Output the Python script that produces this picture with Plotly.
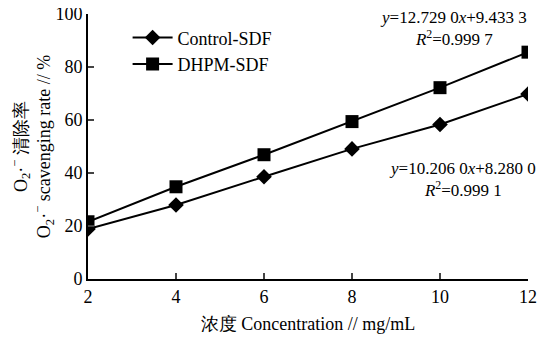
import plotly.graph_objects as go

conc = [2, 4, 6, 8, 10, 12]
control_sdf = [18.9, 27.9, 38.6, 49.1, 58.3, 69.8]
dhpm_sdf = [21.6, 34.8, 46.9, 59.4, 72.2, 85.6]
x_ticks = [2, 4, 6, 8, 10, 12]
y_ticks = [0, 20, 40, 60, 80, 100]

FONT = "Liberation Serif, Times New Roman, serif"
F = dict(family=FONT, size=18, color="black")

fig = go.Figure()
fig.add_trace(go.Scatter(x=conc, y=control_sdf, mode="lines+markers", name="Control-SDF",
                         line=dict(color="black", width=2),
                         marker=dict(symbol="diamond", size=12, color="black")))
fig.add_trace(go.Scatter(x=conc, y=dhpm_sdf, mode="lines+markers", name="DHPM-SDF",
                         line=dict(color="black", width=2),
                         marker=dict(symbol="square", size=13, color="black")))

fig.add_annotation(x=0.83, y=1.03, xref="paper", yref="paper", showarrow=False, xanchor="center", yanchor="top",
                   text="<i>y</i>=12.729 0<i>x</i>+9.433 3<br><i>R</i><sup>2</sup>=0.999 7",
                   font=dict(family=FONT, size=17, color="black"), align="center")
fig.add_annotation(x=0.85, y=0.46, xref="paper", yref="paper", showarrow=False, xanchor="center", yanchor="top",
                   text="<i>y</i>=10.206 0<i>x</i>+8.280 0<br><i>R</i><sup>2</sup>=0.999 1",
                   font=dict(family=FONT, size=17, color="black"), align="center")

fig.update_layout(
    width=547, height=329,
    margin=dict(l=80, r=27, t=6, b=58),
    paper_bgcolor="white", plot_bgcolor="white",
    font=F,
    showlegend=True,
    legend=dict(x=0.09, y=0.98, xanchor="left", yanchor="top", bgcolor="rgba(0,0,0,0)",
                font=F, itemwidth=40, tracegroupgap=4),
    xaxis=dict(range=[2, 12], tickvals=x_ticks, ticks="inside", ticklen=6, tickwidth=2,
               tickfont=F, automargin=False, ticklabeloverflow="allow",
               showline=True, linecolor="black", linewidth=2, showgrid=False, zeroline=False,
               title=dict(text="浓度 Concentration // mg/mL", standoff=12, font=F)),
    yaxis=dict(range=[0, 100], tickvals=y_ticks, ticks="inside", ticklen=6, tickwidth=2,
               tickfont=F, automargin=False, ticklabeloverflow="allow",
               showline=True, linecolor="black", linewidth=2, showgrid=False, zeroline=False,
               title=dict(text="O<sub>2</sub>·<sup>−</sup> 清除率<br>O<sub>2</sub>·<sup>−</sup> scavenging rate // %",
                          standoff=1, font=F)),
)

fig.write_html("out.html")
